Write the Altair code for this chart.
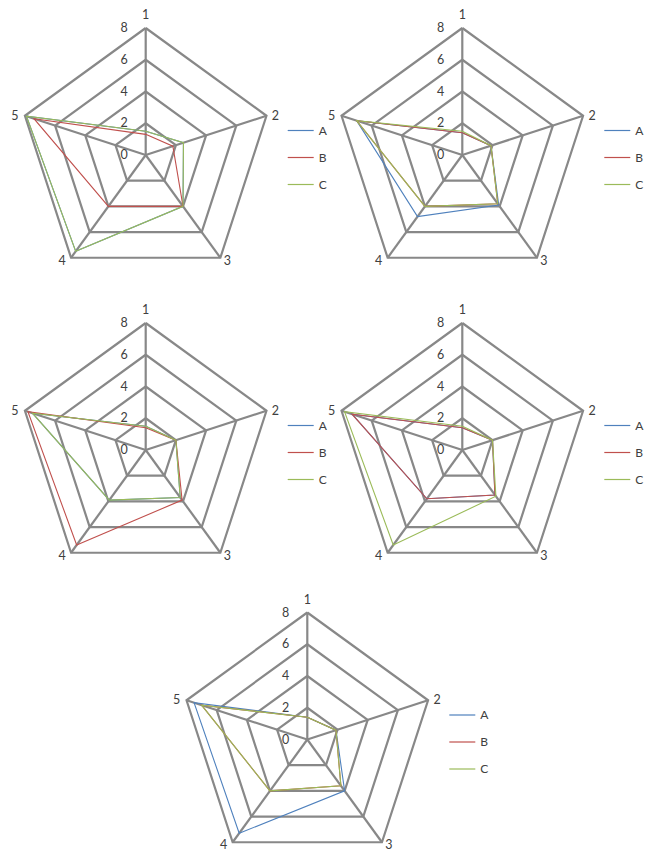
import altair as alt
import pandas as pd

# ---------------- data ----------------
CATEGORIES = ["1", "2", "3", "4", "5"]
SERIES = ["A", "B", "C"]
TICKS = [0, 2, 4, 6, 8]
GRID_LEVELS = [2, 4, 6, 8]
R_MAX = 8

P1_A = [1.5, 2.5, 4.0, 7.5, 7.9]
P1_B = [1.3, 1.8, 4.0, 4.0, 7.4]
P1_C = [1.5, 2.5, 4.0, 7.5, 7.9]

P2_A = [1.4, 1.9, 3.9, 4.8, 7.0]
P2_B = [1.4, 1.9, 3.8, 4.0, 7.0]
P2_C = [1.5, 1.9, 3.8, 4.0, 7.0]

P3_A = [1.5, 2.0, 3.7, 3.9, 7.5]
P3_B = [1.4, 2.0, 3.9, 7.4, 7.8]
P3_C = [1.5, 2.0, 3.7, 3.9, 7.5]

P4_A = [1.4, 2.0, 3.5, 3.8, 7.3]
P4_B = [1.4, 2.0, 3.5, 3.8, 7.3]
P4_C = [1.5, 2.0, 3.6, 7.4, 7.8]

P5_A = [1.4, 1.9, 4.0, 7.3, 7.5]
P5_B = [1.4, 1.9, 3.6, 4.0, 7.0]
P5_C = [1.4, 1.9, 3.6, 4.0, 7.0]

PANELS = [
    {"A": P1_A, "B": P1_B, "C": P1_C},
    {"A": P2_A, "B": P2_B, "C": P2_C},
    {"A": P3_A, "B": P3_B, "C": P3_C},
    {"A": P4_A, "B": P4_B, "C": P4_C},
    {"A": P5_A, "B": P5_B, "C": P5_C},
]

# ---------------- layout / style ----------------
W, H = 639, 846
CENTERS = [(137.7, 147.0), (454.3, 147.0), (137.7, 442.0), (454.3, 442.0), (299.3, 731.5)]
RADIUS = 127.0
U = RADIUS / R_MAX
LABEL_DX = [0, 9, 7, -9, -10]
LABEL_DY = [-13, 0, 3, 3, 0]
COLORS = ["#4F81BD", "#C0504D", "#9BBB59"]
GRID_COLOR = "#888888"
TEXT_COLOR = "#404040"
FONT = "Lato"

xs = alt.Scale(domain=[0, W], nice=False, zero=False)
ys = alt.Scale(domain=[0, H], nice=False, zero=False, reverse=True)
cs = alt.Scale(domain=SERIES, range=COLORS)

ANG = "datum.k * 2 * PI / 5"
XEXP = f"datum.cx + datum.v * {U} * sin({ANG})"
YEXP = f"datum.cy - datum.v * {U} * cos({ANG})"

# ---------------- tables ----------------
grid_rows, spoke_rows, tick_rows, cat_rows, leg_rows = [], [], [], [], []
series_rows = {s: [] for s in SERIES}
for p, panel in enumerate(PANELS):
    cx, cy = CENTERS[p]
    for lvl in GRID_LEVELS:
        for k in range(6):
            grid_rows.append(dict(g=f"{p}-{lvl}", k=k, v=lvl, cx=cx, cy=cy))
    for k in range(5):
        spoke_rows.append(dict(k=k, v=R_MAX, cx=cx, cy=cy))
        cat_rows.append(dict(k=k, v=R_MAX, cx=cx, cy=cy, label=CATEGORIES[k],
                             ddx=LABEL_DX[k], ddy=LABEL_DY[k]))
    for t in TICKS:
        tick_rows.append(dict(k=0, v=t, cx=cx, cy=cy, label=str(t)))
    for i, s in enumerate(SERIES):
        vals = panel[s]
        for k in range(6):
            series_rows[s].append(dict(g=f"{p}-{s}", series=s, k=k, v=vals[k % 5], cx=cx, cy=cy))
        leg_rows.append(dict(series=s, i=i, cx=cx, cy=cy))

grid_df = pd.DataFrame(grid_rows)
spoke_df = pd.DataFrame(spoke_rows)
tick_df = pd.DataFrame(tick_rows)
cat_df = pd.DataFrame(cat_rows)
leg_df = pd.DataFrame(leg_rows)

X = alt.X("x:Q", scale=xs, axis=None)
Y = alt.Y("y:Q", scale=ys, axis=None)

grid = alt.Chart(grid_df).mark_line(color=GRID_COLOR, strokeWidth=2.2, strokeJoin="miter").transform_calculate(
    x=XEXP, y=YEXP
).encode(x=X, y=Y, detail="g:N", order="k:Q")

spokes = alt.Chart(spoke_df).mark_rule(color=GRID_COLOR, strokeWidth=2.2).transform_calculate(
    x="datum.cx", y="datum.cy", x2=XEXP, y2=YEXP
).encode(x=X, y=Y, x2="x2:Q", y2="y2:Q")

series_layers = []
for s in SERIES:
    series_layers.append(
        alt.Chart(pd.DataFrame(series_rows[s])).mark_line(strokeWidth=1.1).transform_calculate(
            x=XEXP, y=YEXP
        ).encode(
            x=X, y=Y, detail="g:N", order="k:Q",
            color=alt.Color("series:N", scale=cs, legend=None),
        )
    )

ticks = alt.Chart(tick_df).mark_text(
    align="right", baseline="middle", fontSize=12.5, font=FONT, color=TEXT_COLOR, dx=-18
).transform_calculate(x=XEXP, y=YEXP).encode(x=X, y=Y, text="label:N")

cats = alt.Chart(cat_df).mark_text(
    align="center", baseline="middle", fontSize=12.5, font=FONT, color=TEXT_COLOR
).transform_calculate(
    x=XEXP + " + datum.ddx", y=YEXP + " + datum.ddy"
).encode(x=X, y=Y, text="label:N")

leg_lines = alt.Chart(leg_df).mark_rule(strokeWidth=1.2).transform_calculate(
    x="datum.cx + 142", x2="datum.cx + 168", y="datum.cy - 24.5 + 27 * datum.i"
).encode(x=X, x2="x2:Q", y=Y, color=alt.Color("series:N", scale=cs, legend=None))

leg_text = alt.Chart(leg_df).mark_text(
    align="left", baseline="middle", fontSize=12, font=FONT, color=TEXT_COLOR
).transform_calculate(
    x="datum.cx + 173", y="datum.cy - 24.5 + 27 * datum.i"
).encode(x=X, y=Y, text="series:N")

chart = alt.layer(grid, spokes, *series_layers, ticks, cats, leg_lines, leg_text).properties(
    width=W, height=H, autosize=alt.AutoSizeParams(type="none"), padding=0, background="white"
).configure_view(strokeWidth=0)

chart.save("out.html", embed_options={"renderer": "svg", "actions": False})
